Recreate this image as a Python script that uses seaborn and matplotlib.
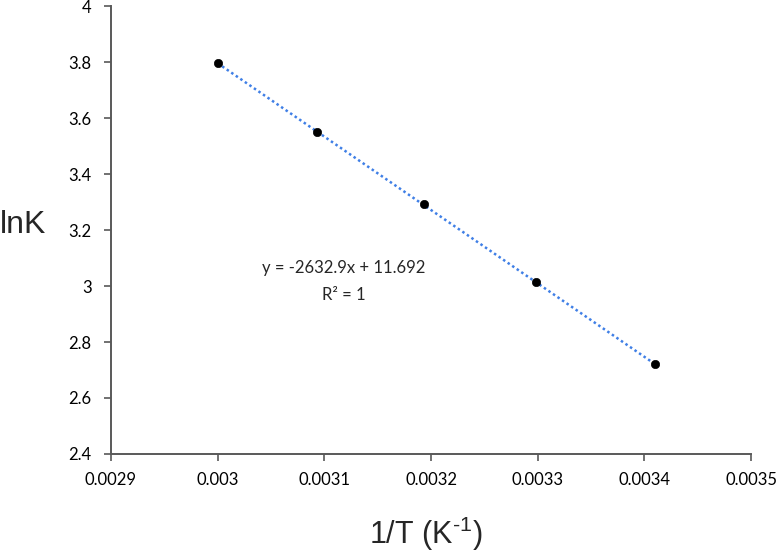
import numpy as np
import pandas as pd
import matplotlib
matplotlib.use("Agg")
import matplotlib.pyplot as plt
import seaborn as sns

# Data
inv_T = [0.003, 0.003093, 0.003193, 0.003298, 0.00341]
lnK = [3.796, 3.55, 3.293, 3.014, 2.72]
x_ticks = [0.0029, 0.003, 0.0031, 0.0032, 0.0033, 0.0034, 0.0035]
x_tick_labels = ["0.0029", "0.003", "0.0031", "0.0032", "0.0033", "0.0034", "0.0035"]
y_ticks = [2.4, 2.6, 2.8, 3.0, 3.2, 3.4, 3.6, 3.8, 4.0]
y_tick_labels = ["2.4", "2.6", "2.8", "3", "3.2", "3.4", "3.6", "3.8", "4"]
equation = "y = -2632.9x + 11.692"
r_squared = "R² = 1"

df = pd.DataFrame({"inv_T": inv_T, "lnK": lnK})

sns.set_style("white")
plt.rcParams['font.family'] = ['Lato', 'DejaVu Sans']
plt.rcParams['mathtext.fontset'] = 'custom'
plt.rcParams['mathtext.rm'] = 'Liberation Sans'
plt.rcParams['mathtext.it'] = 'Liberation Sans'
plt.rcParams['mathtext.default'] = 'rm'

fig = plt.figure(figsize=(7.76, 5.56), dpi=100)
ax = fig.add_axes([0.143, 0.1835, 0.825, 0.8055])

# Linear trendline (dotted)
sns.regplot(data=df, x="inv_T", y="lnK", ax=ax, scatter=False, ci=None,
            line_kws=dict(color="#3f7fe6", linestyle=(0, (1, 1.2)), linewidth=1.8))
# Data points
sns.scatterplot(data=df, x="inv_T", y="lnK", ax=ax, color="black", s=36,
                edgecolor="black", zorder=3)

ax.set_xlim(0.0029, 0.0035)
ax.set_ylim(2.4, 4.0)
ax.set_xticks(x_ticks)
ax.set_xticklabels(x_tick_labels)
ax.set_yticks(y_ticks)
ax.set_yticklabels(y_tick_labels)
ax.tick_params(axis="both", direction="out", length=5, width=1.2, color="#595959",
               labelsize=12, labelcolor="black", bottom=True, left=True)
ax.tick_params(axis="y", pad=9)
ax.tick_params(axis="x", pad=8)

for side in ["top", "right"]:
    ax.spines[side].set_visible(False)
for side in ["left", "bottom"]:
    ax.spines[side].set_color("#595959")
    ax.spines[side].set_linewidth(1.4)

ax.set_xlabel(r"1/T (K$^{\text{-1}}$)", fontsize=22, family="Liberation Sans",
              va="center", ha="center")
ax.set_ylabel("lnK", fontsize=23, family="Liberation Sans", rotation=0,
              va="center", ha="center")
ax.yaxis.set_label_coords(-0.1375, 0.511)
ax.xaxis.set_label_coords(0.491, -0.178)

# Trendline equation
ax.text(0.003118, 3.064, equation, ha="center", va="center", fontsize=12)
ax.text(0.003118, 2.968, r_squared, ha="center", va="center", fontsize=12)

fig.savefig("out.png", dpi=100)
